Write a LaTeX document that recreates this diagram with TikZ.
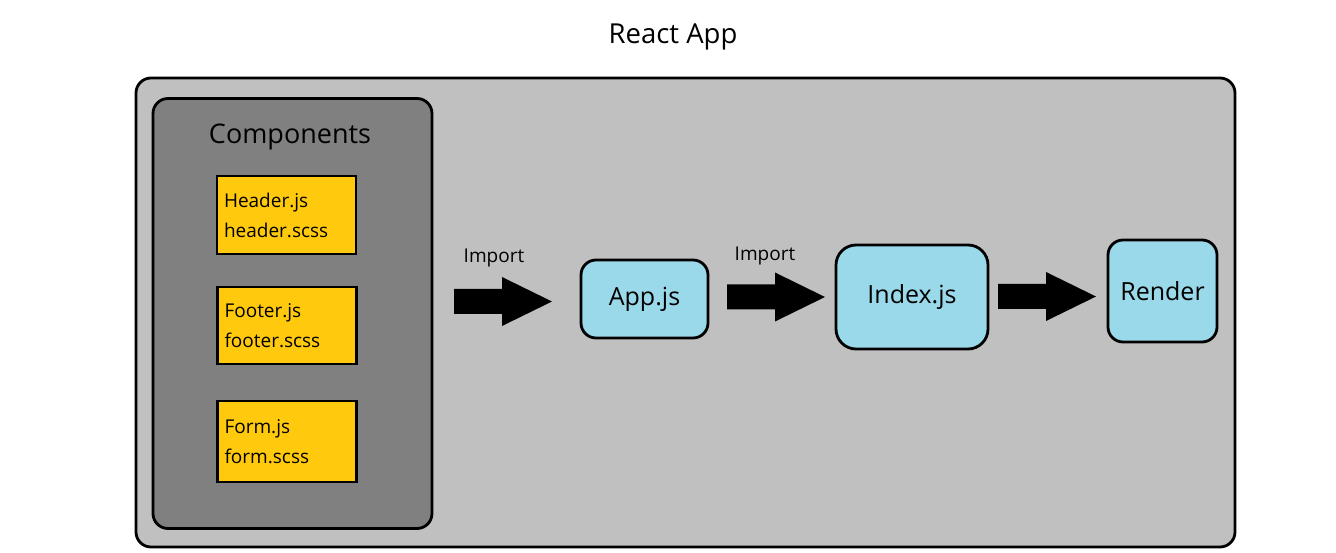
\documentclass[tikz,border=0pt]{standalone}
\usepackage{fontspec}
\setmainfont{Open Sans}
\definecolor{appgrey}{HTML}{C0C0C0}
\definecolor{compgrey}{HTML}{808080}
\definecolor{fileyellow}{HTML}{FFC90E}
\definecolor{stepblue}{HTML}{99D9EA}
\tikzset{
    % every box has the same heavy black outline
    panel/.style={draw=black,line width=2.8pt,rounded corners=15pt},
    filebox/.style={draw=black,line width=2.8pt,fill=fileyellow,
                    minimum width=139pt,text width=125pt,align=left,
                    font=\fontsize{19}{30}\selectfont,inner sep=0pt},
    stepbox/.style={panel,fill=stepblue,font=\fontsize{25}{28}\selectfont},
    importlabel/.style={font=\fontsize{19}{22}\selectfont},
    % block arrow, drawn around its centre
    bigarrow/.pic={
        \fill[black] (-49,-12.5) -- (-1,-12.5) -- (-1,-24.5) -- (49,0)
                     -- (-1,24.5) -- (-1,12.5) -- (-49,12.5) -- cycle;
    }
}

\begin{document}
\begin{tikzpicture}[x=1pt,y=-1pt]

  \useasboundingbox (0,0) rectangle (1336,553);

  \node (title) at (673,37) {\fontsize{27.5}{30}\selectfont React App};

  \node[panel,fill=appgrey,minimum width=1099pt,minimum height=469pt]
        (app) at (685.5,312.5) {};
  \node[panel,fill=compgrey,minimum width=279pt,minimum height=430pt]
        (comp) at (292.5,313.5) {};
  \node (comptitle) at (290,137) {\fontsize{27}{30}\selectfont Components};

  \node[filebox,minimum height=78pt] (header) at (286.5,215) {Header.js\\header.scss};
  \node[filebox,minimum height=77pt] (footer) at (287,325.5) {Footer.js\\footer.scss};
  \node[filebox,minimum height=81pt] (form)   at (287,441.5) {Form.js\\form.scss};

  \pic at (503,301.5) {bigarrow};
  \node[importlabel] (imp1) at (494,258) {Import};

  \node[stepbox,minimum width=127pt,minimum height=78pt] (appjs) at (644.5,299) {App.js};

  \pic at (776,297) {bigarrow};
  \node[importlabel] (imp2) at (765,256) {Import};

  \node[stepbox,rounded corners=20pt,minimum width=152pt,minimum height=104pt]
        (index) at (912,297) {Index.js};

  \pic at (1047,296.5) {bigarrow};

  \node[stepbox,minimum width=109pt,minimum height=102pt] (render) at (1162.5,291) {Render};

\end{tikzpicture}
\end{document}
